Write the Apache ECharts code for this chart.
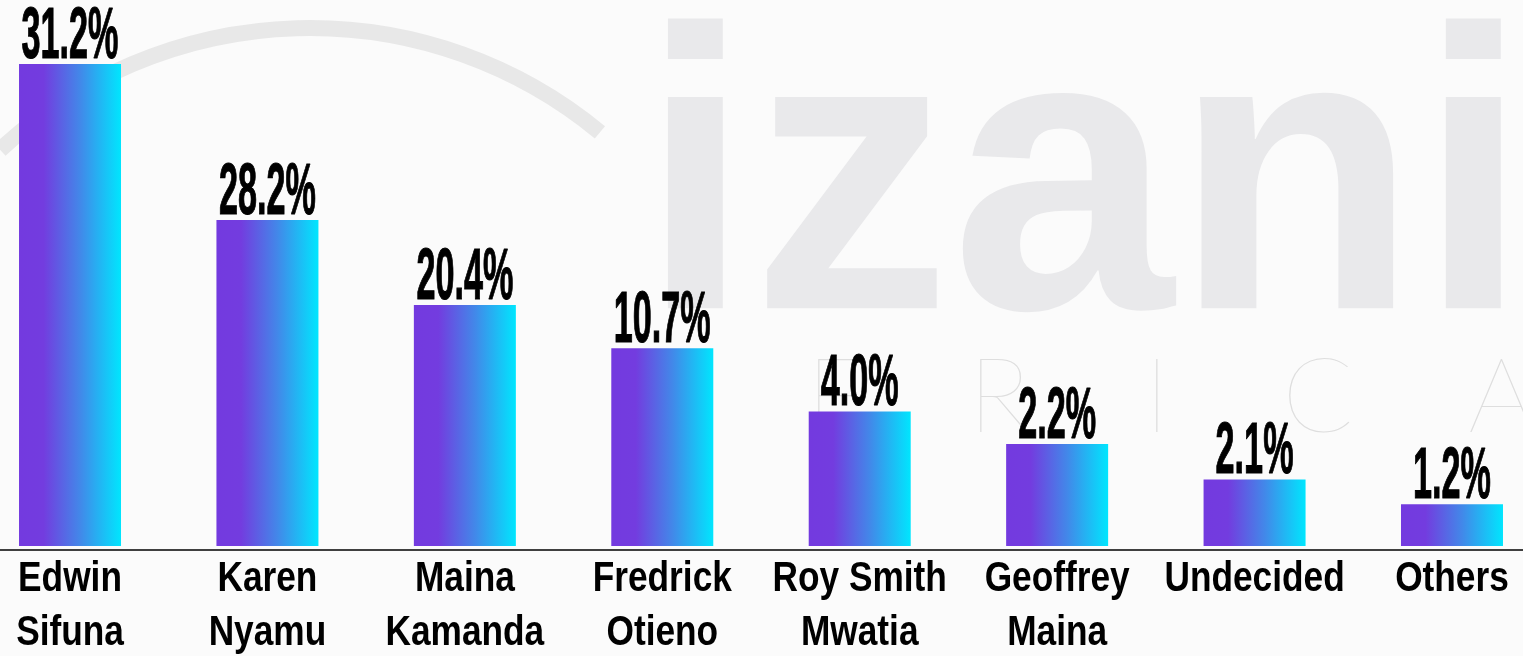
<!DOCTYPE html>
<html>
<head>
<meta charset="utf-8">
<title>Poll</title>
<script src="https://cdn.jsdelivr.net/npm/echarts@6/dist/echarts.min.js"></script>
<style>
    html, body { margin: 0; padding: 0; background: #fff; }
    #main { width: 1523px; height: 656px; }
</style>
</head>
<body>
<div id="main"></div>
<script>
    var candidates = ['Edwin\nSifuna', 'Karen\nNyamu', 'Maina\nKamanda', 'Fredrick\nOtieno',
        'Roy Smith\nMwatia', 'Geoffrey\nMaina', 'Undecided', 'Others'];
    // percentages printed above the bars
    var shares = [31.2, 28.2, 20.4, 10.7, 4.0, 2.2, 2.1, 1.2];
    // bar lengths as drawn in the picture (the picture does not draw them to scale)
    var barLengths = [31.2, 21.1, 15.6, 12.8, 8.7, 6.6, 4.3, 2.7];

    // no narrow face installed: squeeze Liberation Sans Bold instead
    var sans = '"Liberation Sans", Arial, sans-serif';
    var thin = '200 105px "DejaVu Sans ExtraLight", Lato, sans-serif';

    var myChart = echarts.init(document.getElementById('main'));

    var barColor = new echarts.graphic.LinearGradient(0, 0, 1, 0, [
        {offset: 0, color: '#733adf'},
        {offset: 0.24, color: '#733cdf'},
        {offset: 0.6, color: '#4288e9'},
        {offset: 1, color: '#00e6fe'}
    ]);

    // faint logo watermark behind the chart
    var watermark = [
        {type: 'arc', silent: true, z: -10,
            shape: {cx: 310, cy: 483, r: 455, startAngle: -2.32, endAngle: -0.88, clockwise: true},
            style: {stroke: '#e8e8e8', lineWidth: 16, fill: null}},
        {type: 'text', silent: true, z: -10, x: 640, y: -2,
            style: {text: 'izani', font: 'bold 400px ' + sans, fill: '#e9e9eb', textVerticalAlign: 'top'}}
    ];
    [['F', 806], ['R', 968], ['I', 1144], ['C', 1282], ['A', 1468]].forEach(function (l) {
        watermark.push({type: 'text', silent: true, z: -10, x: l[1], y: 346,
            style: {text: l[0], font: thin, fill: '#dedede', textVerticalAlign: 'top'}});
    });

    var option = {
        backgroundColor: '#fbfbfb',
        animation: false,
        graphic: watermark,
        grid: {
            left: -28.7,
            right: -27.7,
            top: 51.6,
            bottom: 106,
            containLabel: false,
            outerBoundsMode: 'none'
        },
        xAxis: {
            type: 'category',
            data: candidates,
            axisLine: {onZero: false, lineStyle: {color: '#000', width: 1.5}},
            axisTick: {show: false},
            axisLabel: {show: false}
        },
        yAxis: {
            type: 'value',
            min: -0.26,
            max: 32,
            show: false,
            splitLine: {show: false}
        },
        series: [
            {
                type: 'bar',
                data: barLengths,
                barWidth: 102,
                itemStyle: {color: barColor}
            },
            {
                // value labels above the bars
                type: 'custom',
                data: barLengths.map(function (v, i) { return [i, v]; }),
                z: 5,
                renderItem: function (params, api) {
                    var pt = api.coord([api.value(0), api.value(1)]);
                    return {
                        type: 'text',
                        x: pt[0],
                        y: pt[1] + 10,
                        scaleX: 0.475,
                        style: {
                            text: shares[params.dataIndex].toFixed(1) + '%',
                            font: 'bold 72px ' + sans,
                            fill: '#000',
                            stroke: '#000',
                            lineWidth: 1.2,
                            textAlign: 'center',
                            textVerticalAlign: 'bottom'
                        }
                    };
                }
            },
            {
                // category names under the axis
                type: 'custom',
                data: candidates.map(function (c, i) { return [i, 0]; }),
                z: 5,
                renderItem: function (params, api) {
                    var pt = api.coord([api.value(0), 0]);
                    return {
                        type: 'text',
                        x: pt[0],
                        y: pt[1] + 6,
                        scaleX: 0.82,
                        style: {
                            text: candidates[params.dataIndex],
                            font: 'bold 43px ' + sans,
                            lineHeight: 54,
                            fill: '#000',
                            textAlign: 'center',
                            textVerticalAlign: 'top'
                        }
                    };
                }
            }
        ]
    };
    myChart.setOption(option);
</script>
</body>
</html>
